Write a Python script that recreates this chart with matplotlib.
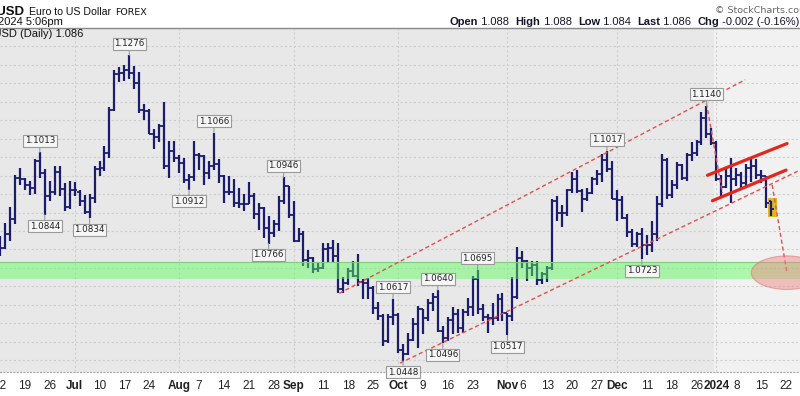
import numpy as np
import pandas as pd
import matplotlib
matplotlib.use("Agg")
import matplotlib.pyplot as plt
from matplotlib.patches import Ellipse, Rectangle

# trading days shown (forex, Christmas and New Year skipped)
dates = pd.bdate_range("2023-06-12", "2024-01-17", freq="C",
                       holidays=["2023-12-25", "2024-01-01"])
# the axis runs a few days past the last bar
axis_days = pd.bdate_range("2023-06-12", "2024-01-31", freq="C",
                           holidays=["2023-12-25", "2024-01-01"])

opens = [1.0750, 1.0755, 1.0792, 1.0832, 1.0944, 1.0940, 1.0924, 1.0916, 1.0989, 1.0958,
         1.0894, 1.0905, 1.0960, 1.0913, 1.0866,
         1.0910, 1.0905, 1.0881, 1.0852, 1.0890, 1.0968, 1.0970, 1.1010, 1.1128, 1.1225,
         1.1228, 1.1236, 1.1227, 1.1200, 1.1129, 1.1125, 1.1064, 1.1054, 1.1085, 1.0977, 1.1016,
         1.0998, 1.0983, 1.0937, 1.0945, 1.1006, 1.1002, 1.0956, 1.0975, 1.0981, 1.0948,
         1.0906, 1.0905, 1.0875, 1.0873, 1.0872, 1.0895, 1.0846, 1.0863, 1.0809, 1.0795,
         1.0818, 1.0880, 1.0921,
         1.0843, 1.0774, 1.0792, 1.0722, 1.0726, 1.0697, 1.0700, 1.0752, 1.0754, 1.0733,
         1.0642, 1.0658, 1.0691, 1.0678, 1.0661, 1.0659, 1.0646, 1.0592, 1.0570, 1.0503, 1.0567,
         1.0573, 1.0477, 1.0468, 1.0505, 1.0549, 1.0589, 1.0564, 1.0605, 1.0620, 1.0530,
         1.0510, 1.0560, 1.0576, 1.0537, 1.0581, 1.0594, 1.0670, 1.0590, 1.0566, 1.0564,
         1.0565, 1.0615,
         1.0577, 1.0569, 1.0621, 1.0726, 1.0720, 1.0699, 1.0707, 1.0666, 1.0683, 1.0700,
         1.0880, 1.0848, 1.0850, 1.0911, 1.0940, 1.0909, 1.0887, 1.0904, 1.0941, 1.0954,
         1.0993, 1.0968,
         1.0888, 1.0883, 1.0835, 1.0797, 1.0764, 1.0793, 1.0762, 1.0763, 1.0792, 1.0872,
         1.0993, 1.0897, 1.0924, 1.0980, 1.0944, 1.1006, 1.1012, 1.1040, 1.1105, 1.1062,
         1.1039, 1.0940, 1.0920, 1.0948, 1.0940, 1.0951, 1.0930, 1.0972, 1.0975, 1.0951,
         1.0950, 1.0880]
highs = [1.0787, 1.0823, 1.0866, 1.0952, 1.0971, 1.0943, 1.0936, 1.0996, 1.1013, 1.0968,
         1.0935, 1.0976, 1.0977, 1.0930, 1.0935,
         1.0934, 1.0910, 1.0897, 1.0900, 1.0975, 1.0991, 1.1030, 1.1136, 1.1235, 1.1245,
         1.1250, 1.1276, 1.1247, 1.1230, 1.1143, 1.1131, 1.1077, 1.1090, 1.1149, 1.1043, 1.1045,
         1.1005, 1.0999, 1.0954, 1.1043, 1.1012, 1.1005, 1.0991, 1.1066, 1.0994, 1.0952,
         1.0950, 1.0941, 1.0917, 1.0900, 1.0932, 1.0904, 1.0875, 1.0864, 1.0840, 1.0830,
         1.0895, 1.0946, 1.0922,
         1.0882, 1.0809, 1.0800, 1.0748, 1.0730, 1.0717, 1.0768, 1.0768, 1.0775, 1.0768,
         1.0675, 1.0700, 1.0718, 1.0737, 1.0670, 1.0672, 1.0652, 1.0608, 1.0574, 1.0575, 1.0617,
         1.0579, 1.0493, 1.0523, 1.0565, 1.0596, 1.0590, 1.0615, 1.0632, 1.0640, 1.0543,
         1.0568, 1.0594, 1.0588, 1.0588, 1.0619, 1.0677, 1.0695, 1.0603, 1.0576, 1.0605,
         1.0628, 1.0631,
         1.0579, 1.0676, 1.0756, 1.0747, 1.0722, 1.0718, 1.0718, 1.0690, 1.0706, 1.0887,
         1.0895, 1.0870, 1.0914, 1.0960, 1.0965, 1.0914, 1.0916, 1.0947, 1.0965, 1.1009,
         1.1017, 1.0990,
         1.0911, 1.0895, 1.0847, 1.0806, 1.0798, 1.0807, 1.0790, 1.0826, 1.0895, 1.1009,
         1.0998, 1.0939, 1.0988, 1.0982, 1.1012, 1.1040, 1.1046, 1.1122, 1.1140, 1.1078,
         1.1045, 1.0953, 1.0969, 1.0998, 1.0970, 1.0960, 1.0981, 1.0998, 1.0995, 1.0966,
         1.0950, 1.0880]
lows = [1.0733, 1.0750, 1.0774, 1.0818, 1.0924, 1.0910, 1.0898, 1.0899, 1.0944, 1.0844,
        1.0880, 1.0897, 1.0896, 1.0855, 1.0860,
        1.0895, 1.0868, 1.0846, 1.0834, 1.0876, 1.0949, 1.0962, 1.0998, 1.1125, 1.1204,
        1.1207, 1.1212, 1.1186, 1.1119, 1.1102, 1.1062, 1.1022, 1.1040, 1.0969, 1.0944, 1.0986,
        1.0958, 1.0929, 1.0912, 1.0935, 1.0966, 1.0925, 1.0940, 1.0964, 1.0929, 1.0877,
        1.0897, 1.0866, 1.0862, 1.0853, 1.0872, 1.0832, 1.0802, 1.0782, 1.0766, 1.0785,
        1.0800, 1.0873, 1.0835,
        1.0771, 1.0770, 1.0705, 1.0700, 1.0686, 1.0688, 1.0697, 1.0717, 1.0713, 1.0632,
        1.0632, 1.0655, 1.0675, 1.0652, 1.0617, 1.0615, 1.0574, 1.0560, 1.0488, 1.0497, 1.0544,
        1.0469, 1.0448, 1.0465, 1.0501, 1.0482, 1.0520, 1.0557, 1.0584, 1.0526, 1.0496,
        1.0503, 1.0522, 1.0524, 1.0525, 1.0570, 1.0569, 1.0576, 1.0557, 1.0523, 1.0545,
        1.0557, 1.0555,
        1.0517, 1.0557, 1.0617, 1.0701, 1.0665, 1.0678, 1.0655, 1.0657, 1.0662, 1.0695,
        1.0828, 1.0812, 1.0842, 1.0903, 1.0903, 1.0852, 1.0880, 1.0899, 1.0924, 1.0932,
        1.0960, 1.0886,
        1.0828, 1.0832, 1.0785, 1.0758, 1.0757, 1.0723, 1.0735, 1.0744, 1.0773, 1.0865,
        1.0888, 1.0889, 1.0914, 1.0938, 1.0935, 1.0991, 1.1002, 1.1033, 1.1053, 1.1032,
        1.0936, 1.0892, 1.0917, 1.0877, 1.0923, 1.0910, 1.0923, 1.0932, 1.0941, 1.0931,
        1.0863, 1.0840]
closes = [1.0755, 1.0792, 1.0832, 1.0944, 1.0940, 1.0924, 1.0916, 1.0989, 1.0958, 1.0894,
          1.0905, 1.0960, 1.0913, 1.0866, 1.0910,
          1.0911, 1.0881, 1.0852, 1.0890, 1.0968, 1.0970, 1.1010, 1.1128, 1.1225, 1.1228,
          1.1236, 1.1227, 1.1200, 1.1129, 1.1125, 1.1064, 1.1054, 1.1085, 1.0977, 1.1016, 1.0998,
          1.0983, 1.0937, 1.0945, 1.1006, 1.1002, 1.0956, 1.0975, 1.0981, 1.0948, 1.0906,
          1.0905, 1.0875, 1.0873, 1.0872, 1.0895, 1.0846, 1.0863, 1.0809, 1.0795, 1.0818,
          1.0880, 1.0921, 1.0843,
          1.0774, 1.0792, 1.0722, 1.0726, 1.0697, 1.0700, 1.0752, 1.0754, 1.0733, 1.0642,
          1.0658, 1.0691, 1.0678, 1.0661, 1.0659, 1.0646, 1.0592, 1.0570, 1.0503, 1.0567, 1.0573,
          1.0477, 1.0468, 1.0505, 1.0549, 1.0589, 1.0564, 1.0605, 1.0620, 1.0530, 1.0510,
          1.0560, 1.0576, 1.0537, 1.0581, 1.0594, 1.0670, 1.0590, 1.0566, 1.0564, 1.0565,
          1.0615, 1.0577,
          1.0569, 1.0621, 1.0726, 1.0720, 1.0699, 1.0707, 1.0666, 1.0683, 1.0700, 1.0880,
          1.0848, 1.0850, 1.0911, 1.0940, 1.0909, 1.0887, 1.0904, 1.0941, 1.0954, 1.0993,
          1.0968, 1.0888,
          1.0883, 1.0835, 1.0797, 1.0764, 1.0793, 1.0762, 1.0763, 1.0792, 1.0872, 1.0993,
          1.0897, 1.0924, 1.0980, 1.0944, 1.1006, 1.1012, 1.1040, 1.1105, 1.1062, 1.1039,
          1.0940, 1.0920, 1.0948, 1.0940, 1.0951, 1.0930, 1.0972, 1.0975, 1.0951, 1.0950,
          1.0877, 1.0860]

# swing highs / lows that carry a value box
label_dates = ["2023-06-22", "2023-06-23", "2023-07-06", "2023-07-18", "2023-08-03",
               "2023-08-10", "2023-08-25", "2023-08-30", "2023-09-29", "2023-10-03",
               "2023-10-12", "2023-10-13", "2023-10-24", "2023-11-01", "2023-11-29",
               "2023-12-08", "2023-12-28"]
label_side = ["hi", "lo", "lo", "hi", "lo", "hi", "lo", "hi", "hi", "lo",
              "hi", "lo", "hi", "lo", "hi", "lo", "hi"]

tick_dates = ["2023-06-12", "2023-06-19", "2023-06-26", "2023-07-03", "2023-07-10", "2023-07-17",
              "2023-07-24", "2023-08-01", "2023-08-07", "2023-08-14", "2023-08-21",
              "2023-08-28", "2023-09-01", "2023-09-11", "2023-09-18", "2023-09-25",
              "2023-10-02", "2023-10-09", "2023-10-16", "2023-10-23", "2023-11-01",
              "2023-11-06", "2023-11-13", "2023-11-20", "2023-11-27", "2023-12-01",
              "2023-12-11", "2023-12-18", "2023-12-26", "2024-01-02", "2024-01-08",
              "2024-01-15", "2024-01-22"]
tick_text = ["12", "19", "26", "Jul", "10", "17", "24", "Aug", "7", "14", "21", "28", "Sep",
             "11", "18", "25", "Oct", "9", "16", "23", "Nov", "6", "13", "20", "27", "Dec",
             "11", "18", "26", "2024", "8", "15", "22"]
month_starts = ["2023-07-03", "2023-08-01", "2023-09-01", "2023-10-02", "2023-11-01",
                "2023-12-01", "2024-01-02"]

# support zone and drawn trendlines (position in trading days, price)
zone = (1.0671, 1.0717)
channel_top = [(68.2, 1.0631), (149.8, 1.1210)]
channel_bottom = [(80.4, 1.0442), (160.8, 1.0965)]
drop_line = [(142.0, 1.1146), (145.2, 1.0903)]
flag_top = [(142.2, 1.0951), (158.2, 1.1037)]
flag_bottom = [(143.2, 1.0882), (158.0, 1.0965)]
target_line = [(155.2, 1.0925), (158.2, 1.0685)]
target = (158.2, 1.0687)

W, H = 800, 396
x = np.arange(len(dates))
pos = {d: i for i, d in enumerate(axis_days.strftime("%Y-%m-%d"))}

fig = plt.figure(figsize=(W / 100, H / 100), dpi=100)
fig.patch.set_facecolor("white")
ax = fig.add_axes([0, 24 / H, 1, 344 / H])
ax.set_facecolor("#e8e8e8")
ax.set_xlim(0.8, 160.8)
ax.set_ylim(1.0418, 1.1335)

# lighter background for the new year
ax.axvspan(pos["2024-01-02"] - 0.5, 160.8, color="#f1f1f1", zorder=0)

ax.set_yticks(np.arange(1.045, 1.135, 0.005))
ax.tick_params(axis="y", left=False, labelleft=False)
ax.grid(axis="y", color="#cfcfcf", linestyle=(0, (2, 2)), linewidth=0.8, zorder=1)
for d in month_starts:
    ax.axvline(pos[d], color="#cfcfcf", linestyle=(0, (2, 2)), linewidth=0.8, zorder=1)

# OHLC bars
bar_c = "#1c1c6e"
ax.vlines(x, lows, highs, color=bar_c, linewidth=1.6, zorder=3)
ax.hlines(opens, x - 0.5, x, color=bar_c, linewidth=1.3, zorder=3)
ax.hlines(closes, x, x + 0.5, color=bar_c, linewidth=1.3, zorder=3)

# green support zone over the bars
ax.axhspan(zone[0], zone[1], facecolor="#5cff5c", alpha=0.45, edgecolor="none", zorder=4)
ax.axhline(zone[1], color="#7ccf78", linewidth=0.8, zorder=4)

# dashed trend lines
for ln in [channel_top, channel_bottom, drop_line, target_line]:
    (x0, y0), (x1, y1) = ln
    ax.plot([x0, x1], [y0, y1], color="#e3504c", linewidth=1.0,
            linestyle=(0, (3, 2)), zorder=5)
for ln in [flag_top, flag_bottom]:
    (x0, y0), (x1, y1) = ln
    ax.plot([x0, x1], [y0, y1], color="#e4261c", linewidth=2.3, zorder=5,
            solid_capstyle="round")

ax.add_patch(Ellipse(target, 14.4, 0.0091, facecolor="#f08a8a", edgecolor="#d96a6a",
                     alpha=0.5, linewidth=0.8, zorder=5))
last = len(dates) - 1
ax.add_patch(Rectangle((last - 0.6, lows[last] - 0.0002), 1.8, highs[last] - lows[last] + 0.0012,
                       facecolor="#d9b000", alpha=0.85, edgecolor="none", zorder=2))

# value boxes
for d, side in zip(label_dates, label_side):
    i = pos[d]
    if side == "hi":
        v, off, va = highs[i], 5, "bottom"
    else:
        v, off, va = lows[i], -5, "top"
    ax.annotate(f"{v:.4f}", xy=(i, v), xytext=(0, off), textcoords="offset points",
                ha="center", va=va, fontsize=6.3, color="#222222",
                family="DejaVu Sans", zorder=6,
                bbox=dict(boxstyle="square,pad=0.18", fc="#f6f6f6", ec="#9a9a9a", lw=0.8),
                arrowprops=dict(arrowstyle="-", color="#9a9a9a", lw=0.8,
                                shrinkA=0, shrinkB=0))

# x axis
ax.set_xticks([pos[d] for d in tick_dates])
ax.set_xticklabels(tick_text, family="Liberation Sans", fontsize=8.5, color="#222222")
for lab in ax.get_xticklabels():
    if not lab.get_text().isdigit() or lab.get_text() == "2024":
        lab.set_fontweight("bold")
ax.tick_params(axis="x", length=0, pad=6)
for s in ["left", "right"]:
    ax.spines[s].set_visible(False)
ax.spines["top"].set_color("#8a8a8a")
ax.spines["top"].set_linewidth(1.0)
ax.spines["bottom"].set_color("#a8a8a8")
ax.spines["bottom"].set_linestyle((0, (1, 2)))

# header texts
r = fig.canvas.get_renderer()


def row(x_px, y_px, pieces, gap=0):
    for s, kw in pieces:
        t = fig.text(x_px / W, 1 - y_px / H, s, ha="left", va="baseline", **kw)
        x_px += t.get_window_extent(r).width + gap


hfont = "Liberation Sans"
fig.text(25 / W, 1 - 15 / H, "$EURUSD", ha="right", va="baseline", family=hfont,
         fontsize=9.5, fontweight="bold", color="#111111")
fig.text(29 / W, 1 - 15 / H, "Euro to US Dollar", ha="left", va="baseline", family=hfont,
         fontsize=7.6, color="#111111")
fig.text(115 / W, 1 - 15 / H, "FOREX", ha="left", va="baseline", family="DejaVu Sans",
         fontsize=6.8, color="#111111")
fig.text(63 / W, 1 - 25 / H, "17-Jan-2024 5:06pm", ha="right", va="baseline", family=hfont,
         fontsize=8, color="#111111")
fig.text(715 / W, 1 - 13 / H, "\u00a9 StockCharts.com", ha="left", va="baseline",
         family="DejaVu Sans", fontsize=6.8, color="#666666")

b = dict(family=hfont, fontsize=8.0, fontweight="bold", color="#151530")
n = dict(family=hfont, fontsize=8.0, color="#151530")
row(450, 25, [("Open", b), (" 1.088  ", n), ("High", b), (" 1.088  ", n), ("Low", b),
              (" 1.084  ", n), ("Last", b), (" 1.086  ", n), ("Chg", b),
              (" -0.002 (-0.16%) ", n),
              ("\u25bc", dict(family="DejaVu Sans", fontsize=6, color="#c0102a"))])

ax.text(83 / W, 1 - 9 / 344, "$EURUSD (Daily) 1.086", transform=ax.transAxes, ha="right",
        va="baseline", family=hfont, fontsize=8, color="#111111", zorder=7)

fig.savefig("out.png", dpi=100)
